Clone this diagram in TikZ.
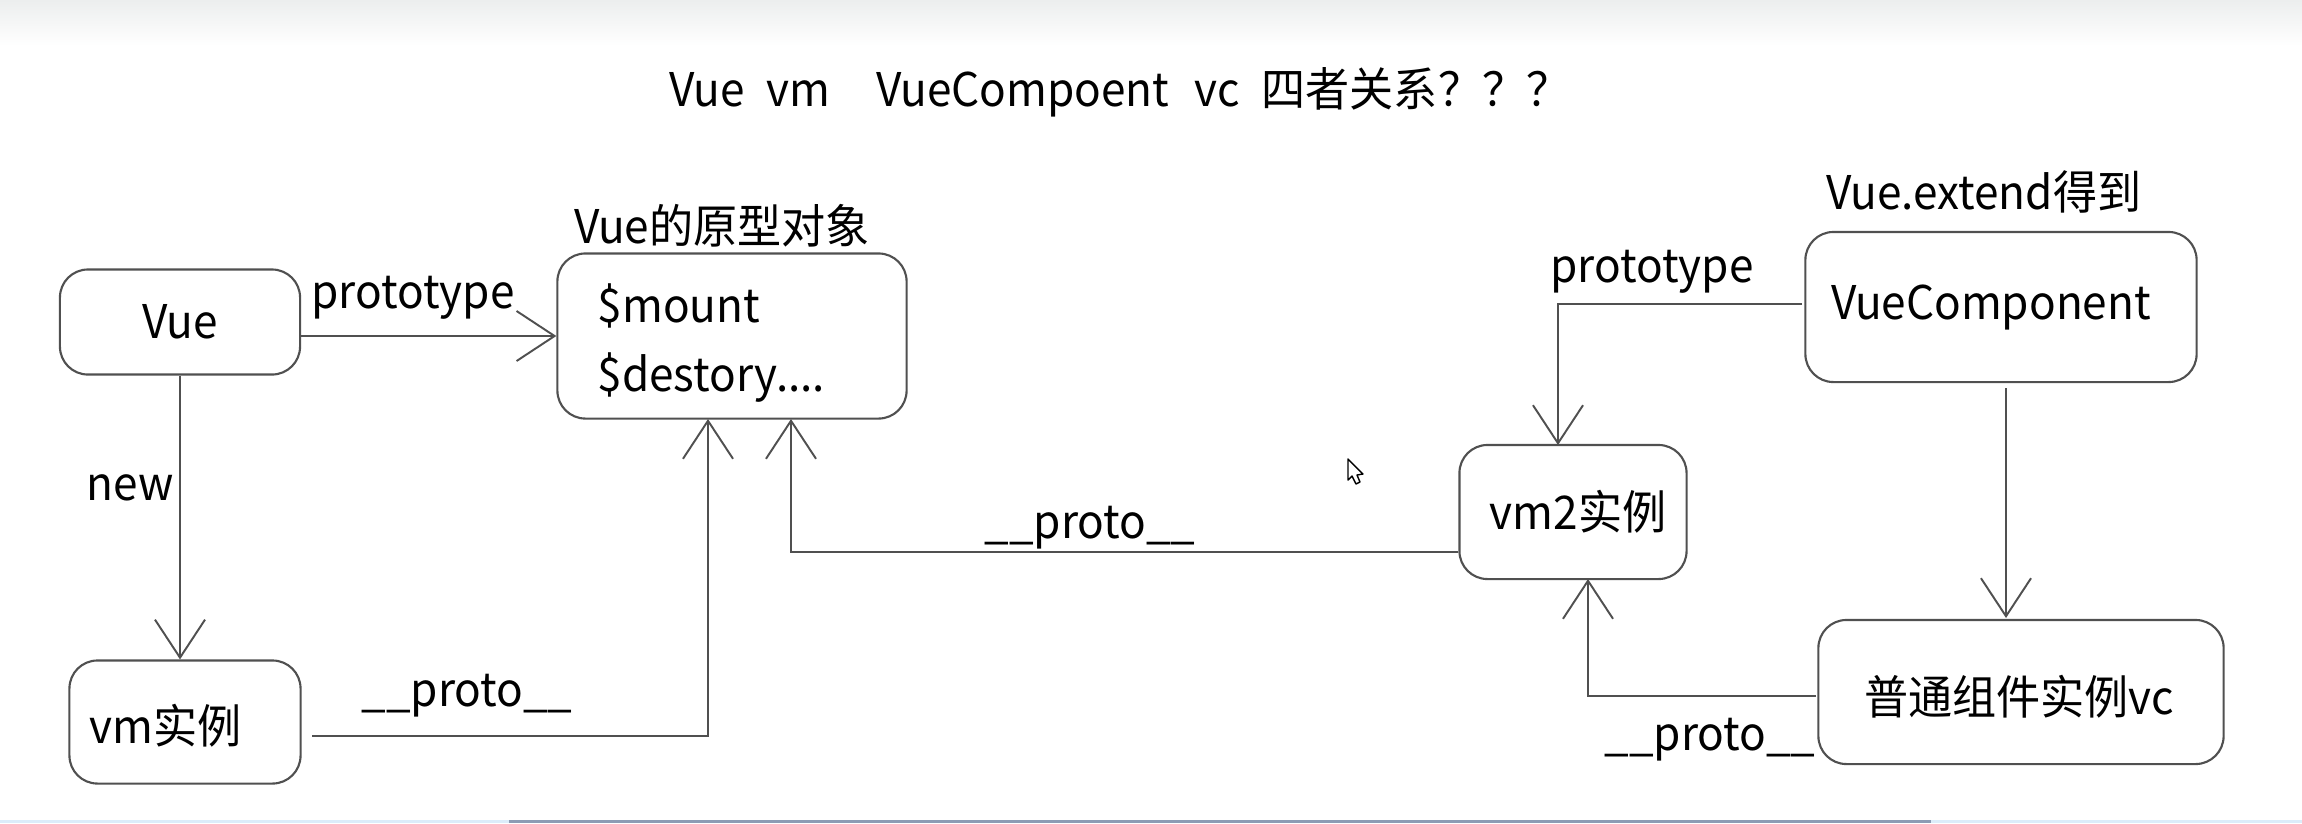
\documentclass[tikz,border=0pt]{standalone}
\usepackage{fontspec}
\setmainfont[FakeStretch=0.95]{Noto Sans CJK SC}
\usetikzlibrary{arrows.meta}
\definecolor{linegray}{HTML}{505050}
\definecolor{topgray}{RGB}{236,238,238}
\definecolor{barlight}{RGB}{220,236,250}
\definecolor{bardark}{RGB}{140,155,180}
\tikzset{
  box/.style={draw=linegray, line width=0.6pt, rounded corners=0.28cm, inner sep=0pt},
  txt/.style={inner sep=0pt, font=\fontsize{13.2}{16}\selectfont, text=black},
  conn/.style={draw=linegray, line width=0.55pt},
  arr/.style={conn, -{Straight Barb[length=0.38cm, width=0.5cm, line width=0.55pt]}},
}
\begin{document}
\begin{tikzpicture}[x=0.01cm, y=-0.01cm]
\useasboundingbox (0,0) rectangle (2302,823);
\fill[white] (0,0) rectangle (2302,823);
\shade[top color=topgray, bottom color=white] (0,0) rectangle (2302,46);
\fill[barlight] (0,820) rectangle (2302,823);
\fill[bardark] (509,820) rectangle (1931,823);

% title
\node[txt] (title) at (1120,92) {Vue\hspace{0.22cm}vm\hspace{0.46cm}VueCompoent\hspace{0.25cm}vc\hspace{0.22cm}四者关系？？？};

% boxes
\node[box, minimum width=2.40cm, minimum height=1.05cm] (vue) at (180,322) {};
\node[txt] (vuet) at (180,322) {Vue};

\node[box, minimum width=3.49cm, minimum height=1.65cm] (proto) at (732,336) {};
\node[txt, anchor=west] (mount) at (597,306) {\$mount};
\node[txt, anchor=west] (destory) at (597,378) {\$destory....};
\node[txt] (protol) at (722,226) {Vue的原型对象};

\node[box, minimum width=2.31cm, minimum height=1.23cm] (vm) at (185,722) {};
\node[txt] (vmt) at (166,726) {vm实例};

\node[box, minimum width=2.27cm, minimum height=1.34cm] (vm2) at (1573,512) {};
\node[txt] (vm2t) at (1578,512) {vm2实例};

\node[box, minimum width=3.91cm, minimum height=1.50cm] (vcomp) at (2001,307) {};
\node[txt] (vcompt) at (1991,307) {VueComponent};
\node[txt] (extl) at (1984,192) {Vue.extend得到};

\node[box, minimum width=4.05cm, minimum height=1.44cm] (vc) at (2021,692) {};
\node[txt] (vct) at (2019,697) {普通组件实例vc};

% connector helper coordinates
\coordinate (a1) at (312,736);
\coordinate (a2) at (708,419);
\coordinate (b1) at (791,419);
\coordinate (c1) at (1802,304);
\coordinate (c2) at (1558,445);
\coordinate (d1) at (1816,696);
\coordinate (d2) at (1588,579);
\coordinate (e1) at (2006,388);
\coordinate (e2) at (2006,618);

% connectors
\draw[arr] (vue.east |- proto.west) -- (proto.west);
\draw[arr] (vue.south) -- (vue.south |- vm.north);
\draw[arr] (a1) -| (a2);
\draw[arr] (vm2.west |- 0,552) -| (b1);
\draw[arr] (c1) -| (c2);
\draw[arr] (e1) -- (e2);
\draw[arr] (d1) -| (d2);

% labels
\node[txt] (l1) at (413,298) {prototype};
\node[txt] (l2) at (130,488) {new};
\node[txt] (l3) at (467,696) {\_\_proto\_\_};
\node[txt] (l4) at (1090,528) {\_\_proto\_\_};
\node[txt] (l5) at (1652,272) {prototype};
\node[txt] (l6) at (1710,740) {\_\_proto\_\_};

% mouse cursor
\draw[black, line width=0.4pt, fill=white, line join=round] (1348,459) -- (1348,480) -- (1352,476) -- (1356,484) -- (1360,482) -- (1357,475) -- (1363,474) -- cycle;
\end{tikzpicture}
\end{document}
